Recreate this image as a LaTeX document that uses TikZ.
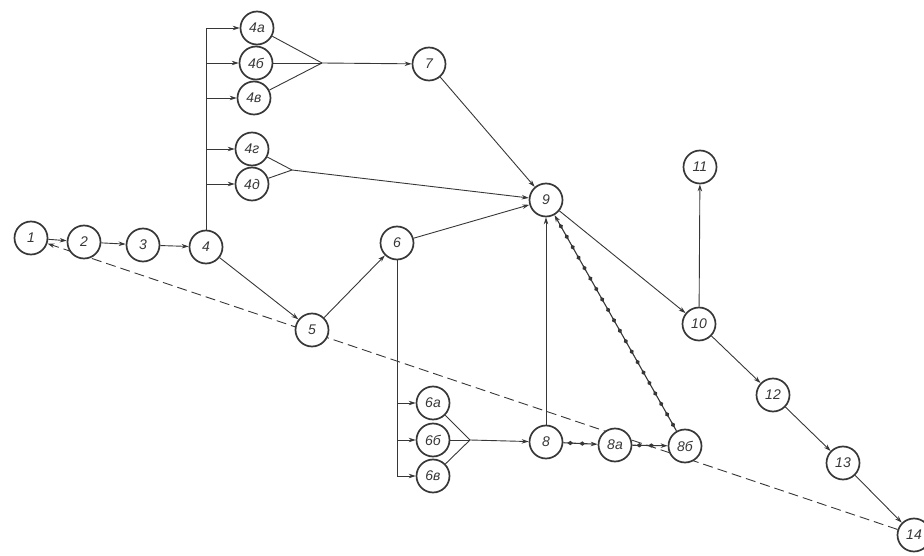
\documentclass[tikz,border=0pt]{standalone}
\usepackage{fontspec}
\setmainfont{Liberation Sans}
\usetikzlibrary{arrows.meta,decorations.markings,backgrounds}
\definecolor{ink}{RGB}{55,55,55}
\begin{document}
\begin{tikzpicture}[x=1pt,y=-1pt,
 ev/.style={circle,draw=ink,line width=1.7pt,fill=white,minimum size=33pt,inner sep=0pt,font=\fontsize{14}{14}\selectfont\itshape,text=ink},
 con/.style={draw=ink,line width=0.9pt},
 arr/.style={con,-{Stealth[length=7pt,width=4.5pt]}},
 crit/.style={arr,line width=1.1pt,postaction={decorate,decoration={markings,mark=between positions 7pt and -12pt step 12pt with {\fill[ink] (-3pt,0)--(0,2.2pt)--(3pt,0)--(0,-2.2pt)--cycle;}}}},
 dashline/.style={con,dash pattern=on 10pt off 5pt,-{Stealth[length=7pt,width=4.5pt]}}]
\useasboundingbox (0,0) rectangle (924,556);
% events
\node[ev] (n1) at (31,238) {1};
\node[ev] (n2) at (84,242) {2};
\node[ev] (n3) at (143,245) {3};
\node[ev] (n4) at (206,247) {4};
\node[ev] (n5) at (312,330) {5};
\node[ev] (n6) at (397,243) {6};
\node[ev] (n7) at (429,64) {7};
\node[ev] (n9) at (546,200) {9};
\node[ev] (n11) at (700,167) {11};
\node[ev] (n10) at (699,324) {10};
\node[ev] (n12) at (773,395) {12};
\node[ev] (n13) at (843,463) {13};
\node[ev] (n14) at (914,535) {14};
\node[ev] (n4a) at (257,28) {4а};
\node[ev] (n4b) at (256,63) {4б};
\node[ev] (n4v) at (254,98) {4в};
\node[ev] (n4g) at (252,149) {4г};
\node[ev] (n4d) at (252,184) {4д};
\node[ev] (n6a) at (433,403) {6а};
\node[ev] (n6b) at (433,440) {6б};
\node[ev] (n6v) at (433,476) {6в};
\node[ev] (n8) at (546,442) {8};
\node[ev] (n8a) at (615,445) {8а};
\node[ev] (n8b) at (685,446) {8б};
% helper points
\coordinate (v4top) at (206,28);
\coordinate (b4b) at (206,63);
\coordinate (b4v) at (206,98);
\coordinate (b4g) at (206,149);
\coordinate (b4d) at (206,184);
\coordinate (v6bot) at (397,476);
\coordinate (b6a) at (397,403);
\coordinate (b6b) at (397,440);
\coordinate (j1) at (322,63);
\coordinate (j2) at (292,170);
\coordinate (j3) at (470,440);
% dashed return
\begin{scope}[on background layer]
\draw[dashline] (n14) -- (n1);
\end{scope}
% chain
\draw[arr] (n1) -- (n2);
\draw[arr] (n2) -- (n3);
\draw[arr] (n3) -- (n4);
\draw[arr] (n4) -- (n5);
\draw[arr] (n5) -- (n6);
\draw[arr] (n6) -- (n9);
\draw[arr] (n7) -- (n9);
\draw[arr] (n8) -- (n9);
\draw[arr] (n9) -- (n10);
\draw[arr] (n10) -- (n11);
\draw[arr] (n10) -- (n12);
\draw[arr] (n12) -- (n13);
\draw[arr] (n13) -- (n14);
% branches from 4
\draw[arr] (n4.north) -- (v4top) -- (n4a);
\draw[arr] (b4b) -- (n4b);
\draw[arr] (b4v) -- (n4v);
\draw[arr] (b4g) -- (n4g);
\draw[arr] (b4d) -- (n4d);
\draw[con] (n4a) -- (j1);
\draw[con] (n4b) -- (j1);
\draw[con] (n4v) -- (j1);
\draw[arr] (j1) -- (n7);
\draw[con] (n4g) -- (j2);
\draw[con] (n4d) -- (j2);
\draw[arr] (j2) -- (n9);
% branches from 6
\draw[arr] (n6.south) -- (v6bot) -- (n6v);
\draw[arr] (b6a) -- (n6a);
\draw[arr] (b6b) -- (n6b);
\draw[con] (n6a) -- (j3);
\draw[con] (n6b) -- (j3);
\draw[con] (n6v) -- (j3);
\draw[arr] (j3) -- (n8);
% critical links
\draw[crit] (n8) -- (n8a);
\draw[crit] (n8a) -- (n8b);
\draw[crit] (n8b) -- (n9);
\end{tikzpicture}
\end{document}
